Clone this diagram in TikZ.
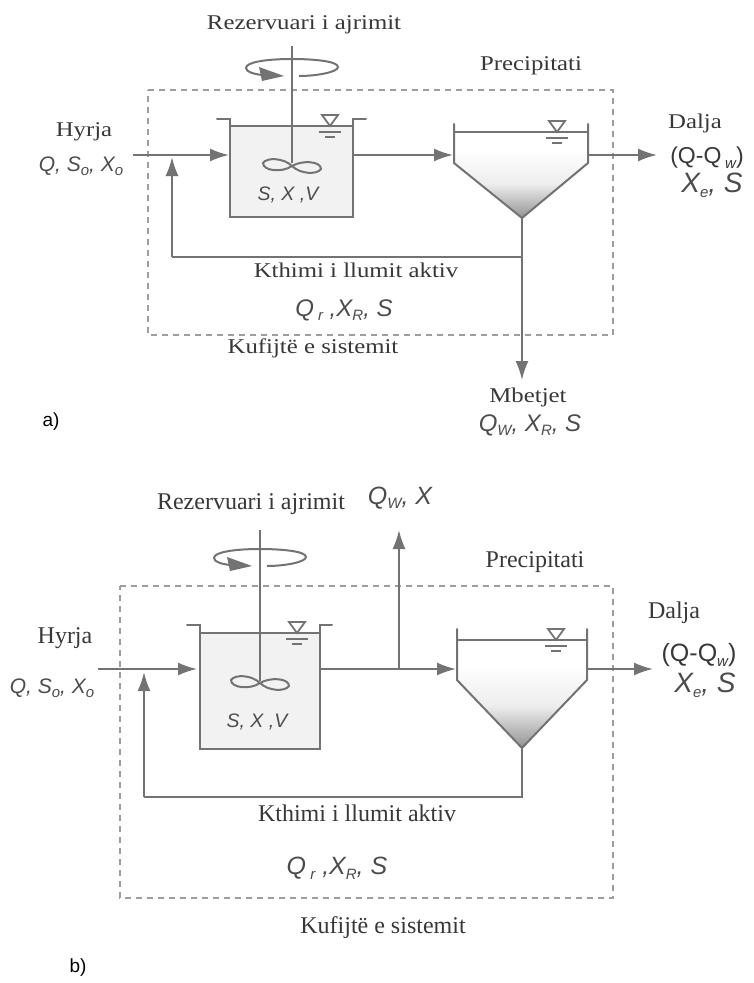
\documentclass[tikz,border=0pt]{standalone}
\usepackage{fontspec}
\setmainfont{Liberation Serif}
\newfontfamily\wideserif[FakeStretch=1.18]{Liberation Serif}
\newfontfamily\lsans{Liberation Sans}
\usetikzlibrary{arrows.meta}
\definecolor{ln}{gray}{0.45}
\definecolor{txt}{gray}{0.22}
\definecolor{stxt}{gray}{0.3}
\definecolor{fillw}{gray}{0.95}
\newcommand{\lowidx}[1]{\raisebox{-0.35ex}{\fontsize{15}{15}\selectfont #1}}
\tikzset{
  pipe/.style={draw=ln,line width=2pt},
  flow/.style={pipe,-{Latex[length=19pt,width=13pt]}},
  wall/.style={draw=ln,line width=2pt,line cap=round},
  bound/.style={draw=ln!70,line width=2pt,dash pattern=on 6pt off 5pt},
  serifa/.style={font=\wideserif\fontsize{21}{24}\selectfont,text=txt,inner sep=0pt},
  serifb/.style={font=\fontsize{24}{27}\selectfont,text=txt,inner sep=0pt},
  sans/.style={font=\lsans\itshape\fontsize{24}{27}\selectfont,text=stxt,inner sep=0pt,align=center},
  sanssmall/.style={font=\lsans\itshape\fontsize{21}{24}\selectfont,text=stxt,inner sep=0pt,align=center},
  sanstank/.style={font=\lsans\itshape\fontsize{19.5}{23}\selectfont,text=stxt,inner sep=0pt,align=center},
  sansbig/.style={font=\lsans\itshape\fontsize{28}{31}\selectfont,text=stxt,inner sep=0pt,align=center},
  sansup/.style={font=\lsans\fontsize{25}{28}\selectfont,text=txt,inner sep=0pt,align=center},
  tag/.style={font=\lsans\fontsize{19}{22}\selectfont,text=black,inner sep=0pt},
}
\newcommand{\levelmark}[2]{%
  \draw[draw=ln,line width=1.8pt,line join=miter] (#1-8,#2-11) -- (#1+8,#2-11) -- (#1,#2) -- cycle;
  \draw[draw=ln,line width=1.8pt] (#1-11,#2+6) -- (#1+11,#2+6);
  \draw[draw=ln,line width=1.8pt] (#1-5,#2+11) -- (#1+5,#2+11);
}
\newcommand{\impeller}[2]{%
  \draw[draw=ln,line width=2pt] (#1,#2) .. controls (#1-8,#2-8) and (#1-25,#2-9) .. (#1-29,#2-3) .. controls (#1-29,#2+5) and (#1-10,#2+7) .. (#1,#2)
    .. controls (#1+10,#2-6) and (#1+29,#2-5) .. (#1+29,#2+3) .. controls (#1+25,#2+9) and (#1+8,#2+8) .. (#1,#2);
}
\newcommand{\spin}[2]{%
  \draw[draw=ln,line width=2pt] (#1+7,#2+7) .. controls (#1+25,#2+7) and (#1+46,#2+3) .. (#1+46,#2-2)
    .. controls (#1+46,#2-8) and (#1+20,#2-10) .. (#1,#2-10) .. controls (#1-25,#2-10) and (#1-46,#2-7) .. (#1-46,#2-1)
    .. controls (#1-46,#2+3) and (#1-38,#2+5) .. (#1-30,#2+6);
  \fill[ln] (#1-33,#2-2) -- (#1-8,#2+7) -- (#1-30,#2+12) -- cycle;
}
\begin{document}
\begin{tikzpicture}[x=1pt,y=-1pt]
\useasboundingbox (0,0) rectangle (753,983);
\fill[white] (0,0) rectangle (753,983);

%%% ---------- panel a ----------
\fill[fillw] (230,126) rectangle (353,217);
\shade[top color=white,bottom color=gray!85,middle color=gray!14] (454,163) -- (454,150) -- (588,150) -- (588,163) -- (522,218) -- cycle;
\draw[bound] (148,90) -- (613,90) -- (613,335) -- (148,335) -- cycle;

\coordinate (aIn) at (133,155);
\coordinate (aTankL) at (229,155);
\coordinate (aTankR) at (353,155);
\coordinate (aClarL) at (453,155);
\coordinate (aClarR) at (588,155);
\coordinate (aOut) at (657,155);
\coordinate (aApex) at (522,218);
\coordinate (aJoin) at (522,257);
\coordinate (aWaste) at (522,380);
\coordinate (aRetC) at (172,257);
\coordinate (aRetT) at (172,157);
\coordinate (aShaftT) at (292,46);
\coordinate (aShaftB) at (292,163);

\draw[wall] (217,119) -- (230,119) -- (230,217) -- (353,217) -- (353,119) -- (366,119);
\draw[wall] (230,126) -- (353,126);
\draw[wall] (454,124) -- (454,163) -- (aApex) -- (588,163) -- (588,124);
\draw[wall] (454,132) -- (588,132);
\draw[pipe] (aShaftT) -- (aShaftB);
\spin{292}{69}
\impeller{292}{166}
\levelmark{330}{126}
\levelmark{557}{132}

\draw[flow] (aIn) -- (aTankL);
\draw[flow] (aTankR) -- (aClarL);
\draw[flow] (aClarR) -- (aOut);
\draw[flow] (aApex) -- (aWaste);
\draw[pipe] (aJoin) -- (aRetC);
\draw[flow] (aRetC) -- (aRetT);

\node[serifa] (aT1) at (304,25) {Rezervuari i ajrimit};
\node[serifa] (aT2) at (531,66) {Precipitati};
\node[serifa] (aT3) at (84,132) {Hyrja};
\node[sanssmall] (aT4) at (81,166) {Q, S\lowidx{o}, X\lowidx{o}};
\node[sanstank] (aT5) at (288,195) {S, X ,V};
\node[serifa] (aT6) at (695,123) {Dalja};
\node[sansup,font=\lsans\fontsize{23}{26}\selectfont] (aT7) at (707,158) {(Q-Q\,\lowidx{\itshape w})};
\node[sansbig] (aT8) at (712,185) {X\lowidx{e}, S};
\node[serifa] (aT9) at (356,270) {Kthimi i llumit aktiv};
\node[sans] (aT10) at (344,310) {Q\,\lowidx{r} ,X\lowidx{R}, S};
\node[serifa] (aT11) at (313,348) {Kufijtë e sistemit};
\node[serifa] (aT12) at (528,397) {Mbetjet};
\node[sans] (aT13) at (530,425) {Q\lowidx{W}, X\lowidx{R}, S};
\node[tag] (aT14) at (51,422) {a)};

%%% ---------- panel b ----------
\fill[fillw] (200,633) rectangle (320,749);
\shade[top color=white,bottom color=gray!85,middle color=gray!14] (457,680) -- (457,664) -- (587,664) -- (587,680) -- (522,748) -- cycle;
\draw[bound] (120,586) -- (613,586) -- (613,898) -- (120,898) -- cycle;

\coordinate (bIn) at (98,669);
\coordinate (bTankL) at (197,669);
\coordinate (bTankR) at (321,669);
\coordinate (bBranch) at (399,669);
\coordinate (bTop) at (399,530);
\coordinate (bClarL) at (456,669);
\coordinate (bClarR) at (587,669);
\coordinate (bOut) at (653,669);
\coordinate (bApex) at (522,748);
\coordinate (bCorner) at (522,797);
\coordinate (bRetC) at (144,797);
\coordinate (bRetT) at (144,672);
\coordinate (bShaftT) at (260,530);
\coordinate (bShaftB) at (260,681);

\draw[wall] (187,625) -- (200,625) -- (200,749) -- (320,749) -- (320,625) -- (332,625);
\draw[wall] (200,633) -- (320,633);
\draw[wall] (457,629) -- (457,680) -- (bApex) -- (587,680) -- (587,629);
\draw[wall] (457,640) -- (587,640);
\draw[pipe] (bShaftT) -- (bShaftB);
\spin{260}{559}
\impeller{260}{683}
\levelmark{297}{633}
\levelmark{556}{640}

\draw[flow] (bIn) -- (bTankL);
\draw[flow] (bTankR) -- (bClarL);
\draw[flow] (bBranch) -- (bTop);
\draw[flow] (bClarR) -- (bOut);
\draw[pipe] (bApex) -- (bCorner) -- (bRetC);
\draw[flow] (bRetC) -- (bRetT);

\node[serifb] (bT1) at (251,504) {Rezervuari i ajrimit};
\node[sans,font=\lsans\itshape\fontsize{25}{28}\selectfont] (bT2) at (400,498) {Q\lowidx{W}, X};
\node[serifb] (bT3) at (535,562) {Precipitati};
\node[serifb] (bT4) at (65,638) {Hyrja};
\node[sanssmall] (bT5) at (52,688) {Q, S\lowidx{o}, X\lowidx{o}};
\node[sanstank] (bT6) at (257,722) {S, X ,V};
\node[serifb] (bT7) at (674,613) {Dalja};
\node[sansup] (bT8) at (699,655) {(Q-Q\lowidx{\itshape w})};
\node[sansbig] (bT9) at (705,685) {X\lowidx{e}, S};
\node[serifb] (bT10) at (357,813) {Kthimi i llumit aktiv};
\node[sans,font=\lsans\itshape\fontsize{25}{28}\selectfont] (bT11) at (337,868) {Q\,\lowidx{r} ,X\lowidx{R}, S};
\node[serifb] (bT12) at (383,928) {Kufijtë e sistemit};
\node[tag] (bT13) at (78,968) {b)};
\end{tikzpicture}
\end{document}
